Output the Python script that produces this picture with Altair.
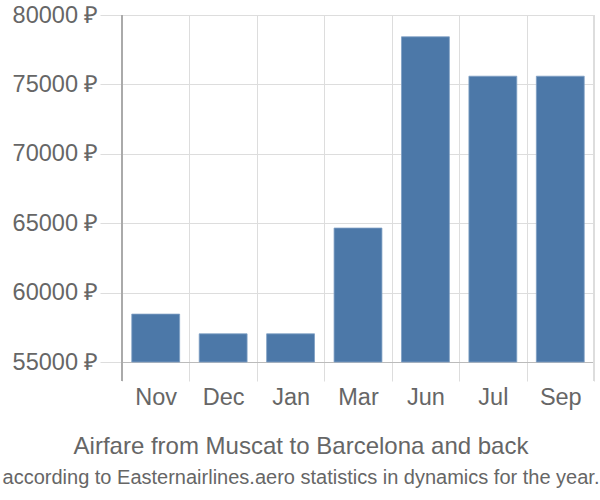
import altair as alt
import pandas as pd

months = ["Nov", "Dec", "Jan", "Mar", "Jun", "Jul", "Sep"]
prices = [58450, 57030, 57030, 64650, 78430, 75590, 75590]
y_ticks = [55000, 60000, 65000, 70000, 75000, 80000]
baseline = 55000

df = pd.DataFrame({"month": months, "price": prices})

FONT = "Liberation Sans"
GRID = "#dddddd"

x_enc = alt.X(
    "month:N", sort=months,
    scale=alt.Scale(paddingInner=0, paddingOuter=0),
    axis=alt.Axis(
        title=None, labelAngle=0, labelFont=FONT, labelFontSize=23.5,
        labelColor="#666666", labelPadding=4,
        grid=True, gridColor=GRID, bandPosition=0,
        ticks=True, tickColor=GRID, tickSize=19, tickBand="extent",
        domainColor="#bbbbbb",
    ),
)

bars = alt.Chart(df).mark_bar(
    color="#4c78a8", width=alt.RelativeBandSize(0.71),
    stroke="#7f9fc4", strokeWidth=0.8,
).encode(
    x=x_enc,
    y=alt.Y(
        "price:Q",
        scale=alt.Scale(domain=[55000, 80000], zero=False, nice=False),
        axis=alt.Axis(
            title=None, values=y_ticks, labelExpr="datum.value + ' ₽'",
            labelFont=FONT, labelFontSize=23.5, labelColor="#666666",
            labelPadding=2, grid=True, gridColor=GRID,
            tickColor=GRID, tickSize=22, domainColor="#aaaaaa",
        ),
    ),
    y2=alt.datum(baseline),
)

left_line = alt.Chart(df).mark_rule(color="#aaaaaa", strokeWidth=1.5).encode(
    x=alt.value(0), y=alt.value(0), y2=alt.value(366)
)
right_line = alt.Chart(df).mark_rule(color=GRID).encode(
    x=alt.value(472), y=alt.value(0), y2=alt.value(366)
)

chart = alt.layer(bars, left_line, right_line).properties(
    width=472, height=347,
    padding={"left": 122, "top": 15, "right": 6, "bottom": 138},
    autosize=alt.AutoSizeParams(type="none"),
    title=alt.TitleParams(
        text="Airfare from Muscat to Barcelona and back",
        subtitle="according to Easternairlines.aero statistics in dynamics for the year.",
        orient="bottom", anchor="middle", font=FONT, fontSize=24,
        fontWeight="normal", color="#666666", subtitleFont=FONT,
        subtitleFontSize=20, subtitleColor="#666666", offset=26,
        subtitlePadding=9, dx=-57,
    ),
).configure_view(stroke=None)

chart.save("out.html", embed_options={"renderer": "svg", "actions": False})
